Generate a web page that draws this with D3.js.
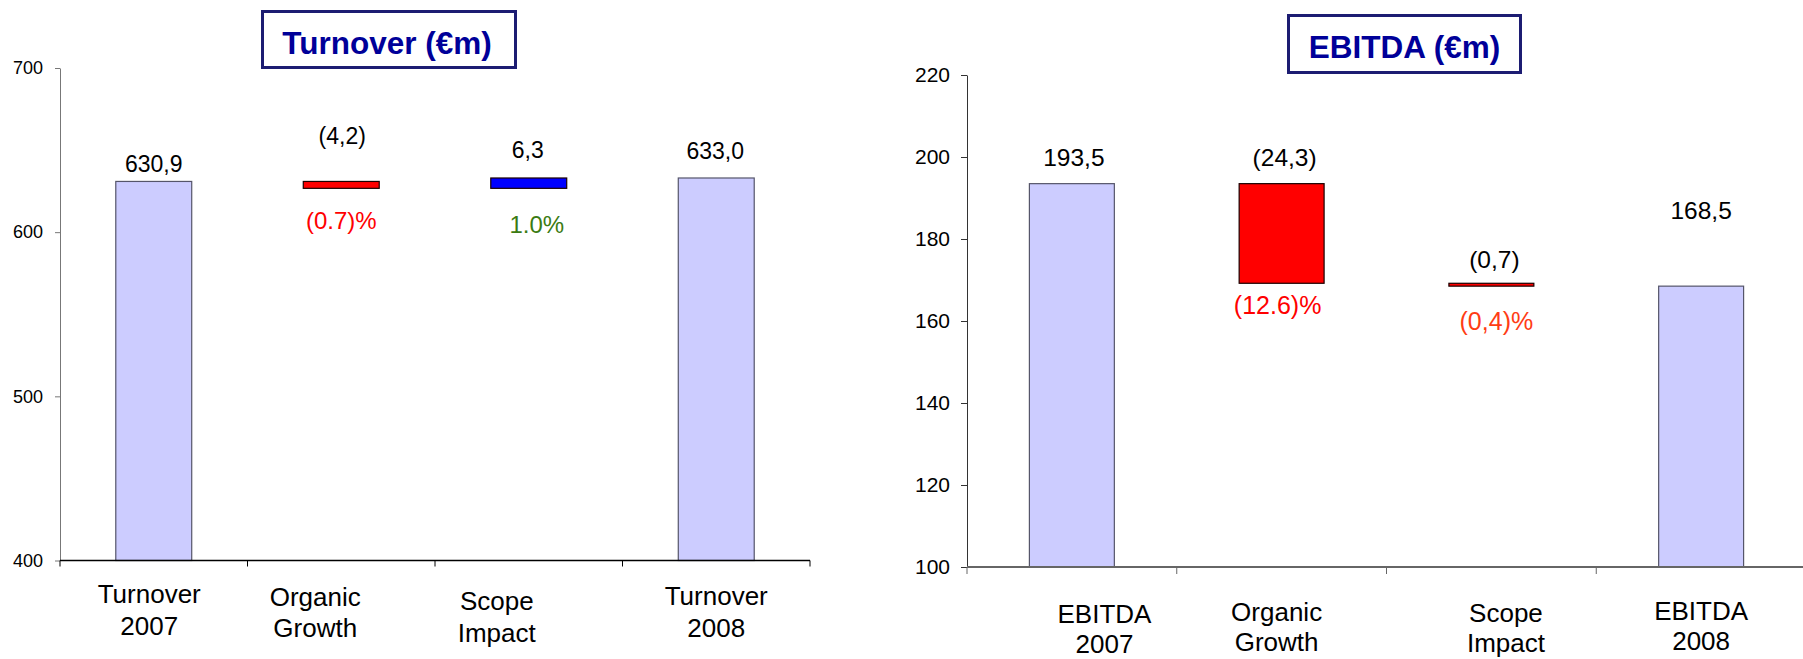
<!DOCTYPE html>
<html>
<head>
<meta charset="utf-8">
<script src="https://cdn.jsdelivr.net/npm/d3@7"></script>
<style>
  html, body { margin: 0; padding: 0; background: #ffffff; }
  svg { display: block; font-family: "Liberation Sans", Arial, sans-serif; }
</style>
</head>
<body>
<svg id="chart" width="1803" height="659"></svg>
<script>
// ---- Turnover bridge (€m) ----
const turnoverCategories = ["Turnover 2007", "Organic Growth", "Scope Impact", "Turnover 2008"];
const turnoverKinds = ["total", "delta", "delta", "total"];
const turnoverValues = [630.9, -4.2, 6.3, 633.0];
const turnoverPercents = ["", "(0.7)%", "1.0%", ""];
const turnoverTicks = [400, 500, 600, 700];

// ---- EBITDA bridge (€m) ----
const ebitdaCategories = ["EBITDA 2007", "Organic Growth", "Scope Impact", "EBITDA 2008"];
const ebitdaKinds = ["total", "delta", "delta", "total"];
const ebitdaValues = [193.5, -24.3, -0.7, 168.5];
const ebitdaPercents = ["", "(12.6)%", "(0,4)%", ""];
const ebitdaTicks = [100, 120, 140, 160, 180, 200, 220];

// Number format used on the value labels: decimal comma, negatives in brackets
const fmtValue = v => {
  const s = Math.abs(v).toFixed(1).replace(".", ",");
  return v < 0 ? `(${s})` : s;
};

const svg = d3.select("#chart");

function drawBridge(opts) {
  const g = svg.append("g");
  const domain = d3.extent(opts.ticks);

  const x = d3.scaleBand().domain(opts.categories).range(opts.xRange).padding(0);
  const y = d3.scaleLinear().domain(domain).range(opts.yRange);
  const bw = x.bandwidth();
  const barW = bw * opts.barFrac;

  // Waterfall segments
  let running = 0;
  const segs = opts.categories.map((c, i) => {
    const v = opts.values[i];
    let lo, hi;
    if (opts.kinds[i] === "total") {
      lo = domain[0]; hi = v; running = v;
    } else {
      lo = Math.min(running, running + v);
      hi = Math.max(running, running + v);
      running += v;
    }
    return { c, i, v, kind: opts.kinds[i], lo, hi };
  });

  // Y axis
  const yAxis = d3.axisLeft(y)
    .tickValues(opts.ticks)
    .tickSize(opts.tickLen)
    .tickSizeOuter(0)
    .tickPadding(opts.tickPadding)
    .tickFormat(d3.format("d"));
  const ya = g.append("g")
    .attr("transform", `translate(${opts.xRange[0]},0)`)
    .call(yAxis);
  ya.select(".domain").attr("stroke", opts.yAxisColor).attr("stroke-width", 1);
  ya.selectAll(".tick line").attr("stroke", opts.yAxisColor);
  ya.selectAll(".tick text")
    .attr("font-size", opts.tickFont)
    .attr("fill", "#000")
    .attr("font-family", "'Liberation Sans', Arial, sans-serif");

  // Bars
  g.selectAll("rect.bar")
    .data(segs)
    .join("rect")
    .attr("class", "bar")
    .attr("x", d => x(d.c) + (bw - barW) / 2)
    .attr("width", barW)
    .attr("y", d => y(d.hi))
    .attr("height", d => Math.max(0, y(d.lo) - y(d.hi)))
    .attr("fill", d => d.kind === "total" ? "#ccccff" : (d.v < 0 ? "#ff0000" : "#0000ff"))
    .attr("stroke", d => d.kind === "total" ? "#55556a" : "#1a0000")
    .attr("stroke-width", 1.2);

  // X axis line with boundary ticks
  const base = y(domain[0]);
  const bounds = opts.categories.map(c => x(c)).concat([x.range()[1]]);
  g.append("line")
    .attr("x1", opts.xRange[0]).attr("x2", opts.xRange[1])
    .attr("y1", base).attr("y2", base)
    .attr("stroke", opts.xAxisColor).attr("stroke-width", opts.xAxisWidth);
  g.selectAll("line.xtick")
    .data(bounds)
    .join("line")
    .attr("class", "xtick")
    .attr("x1", d => d).attr("x2", d => d)
    .attr("y1", base).attr("y2", base + opts.tickLen + 1)
    .attr("stroke", opts.xAxisColor).attr("stroke-width", 1);

  // Category labels (two lines)
  const cat = g.selectAll("text.cat")
    .data(segs)
    .join("text")
    .attr("class", "cat")
    .attr("text-anchor", "middle")
    .attr("font-size", opts.catFont)
    .attr("fill", "#000");
  cat.each(function (d) {
    const cx = x(d.c) + bw / 2 + opts.catDx[d.i];
    const parts = d.c.split(" ");
    d3.select(this).selectAll("tspan")
      .data(parts)
      .join("tspan")
      .attr("x", cx)
      .attr("y", (p, k) => opts.catBaseline[d.i] + k * opts.catLineH)
      .text(p => p);
  });

  // Value labels above each bar
  g.selectAll("text.val")
    .data(segs)
    .join("text")
    .attr("class", "val")
    .attr("text-anchor", "middle")
    .attr("font-size", opts.valFont)
    .attr("fill", "#000")
    .attr("x", d => x(d.c) + bw / 2 + opts.valDx[d.i])
    .attr("y", d => y(d.hi) - opts.valGap[d.i])
    .text(d => fmtValue(d.v));

  // Percentage labels below the movement bars
  g.selectAll("text.pct")
    .data(segs.filter(d => opts.percents[d.i] !== ""))
    .join("text")
    .attr("class", "pct")
    .attr("text-anchor", "middle")
    .attr("font-size", opts.pctFont)
    .attr("fill", d => opts.pctColors[d.i])
    .attr("x", d => x(d.c) + bw / 2 + opts.pctDx[d.i])
    .attr("y", d => y(d.lo) + opts.pctGap[d.i])
    .text(d => opts.percents[d.i]);

  // Boxed title
  const t = opts.title;
  g.append("rect")
    .attr("x", t.x0 + 1.5).attr("y", t.y0 + 1.5)
    .attr("width", t.x1 - t.x0 - 3).attr("height", t.y1 - t.y0 - 3)
    .attr("fill", "#ffffff")
    .attr("stroke", "#1c1c72").attr("stroke-width", 3);
  g.append("text")
    .attr("x", t.cx).attr("y", t.baseline)
    .attr("text-anchor", "middle")
    .attr("font-size", t.size)
    .attr("font-weight", "bold")
    .attr("fill", "#000099")
    .text(t.text);
}

drawBridge({
  categories: turnoverCategories,
  kinds: turnoverKinds,
  values: turnoverValues,
  percents: turnoverPercents,
  ticks: turnoverTicks,
  xRange: [60, 810],
  yRange: [560.5, 68],
  barFrac: 0.405,
  tickLen: 5,
  tickPadding: 12,
  tickFont: 18,
  yAxisColor: "#777777",
  xAxisColor: "#000000",
  xAxisWidth: 1.6,
  catFont: 26,
  catDx: [-4.5, -26, -32, 0],
  catBaseline: [603, 605.5, 610, 605],
  catLineH: 31.5,
  valFont: 23,
  valDx: [0, 1, -1, -1],
  valGap: [9, 37, 20, 19],
  pctFont: 24,
  pctDx: [0, 0, 8, 0],
  pctGap: [0, 41, 45, 0],
  pctColors: ["", "#ff0000", "#3b7b12", ""],
  title: { text: "Turnover (€m)", x0: 261, x1: 517, y0: 10, y1: 69, cx: 387, baseline: 53.5, size: 31.5 }
});

drawBridge({
  categories: ebitdaCategories,
  kinds: ebitdaKinds,
  values: ebitdaValues,
  percents: ebitdaPercents,
  ticks: ebitdaTicks,
  xRange: [967, 1806],
  yRange: [567, 75],
  barFrac: 0.405,
  tickLen: 6,
  tickPadding: 11,
  tickFont: 21,
  yAxisColor: "#333333",
  xAxisColor: "#666666",
  xAxisWidth: 2,
  catFont: 26,
  catDx: [32.6, -5, 14.6, 0],
  catBaseline: [623, 621, 622, 620],
  catLineH: 30,
  valFont: 24.5,
  valDx: [2, 3, 3, 0],
  valGap: [18, 18, 15, 67],
  pctFont: 25,
  pctDx: [0, -4, 5, 0],
  pctGap: [0, 31, 44, 0],
  pctColors: ["", "#ff0000", "#ff3c14", ""],
  title: { text: "EBITDA (€m)", x0: 1287, x1: 1522, y0: 14, y1: 74, cx: 1404.5, baseline: 57.5, size: 31.5 }
});
</script>
</body>
</html>
